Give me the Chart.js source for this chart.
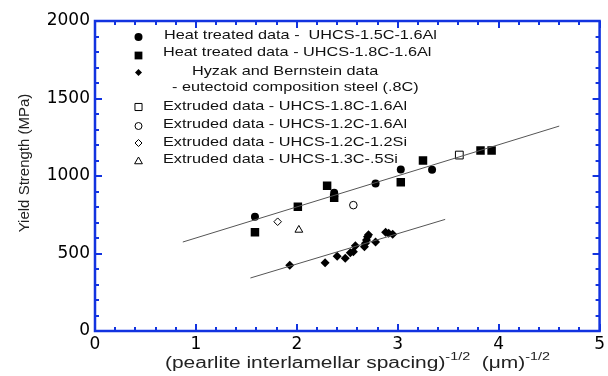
<!DOCTYPE html>
<html>
<head>
<meta charset="utf-8">
<script src="https://cdn.jsdelivr.net/npm/chart.js@4.4.1/dist/chart.umd.min.js"></script>
<style>
  html, body { margin: 0; padding: 0; background: #fff; }
  #wrap { width: 608px; height: 376px; }
</style>
</head>
<body>
<div id="wrap"><canvas id="chart" width="608" height="376"></canvas></div>
<script>
// Heat treated data - UHCS-1.5C-1.6Al (filled circles)
const heat15X = [1.585, 2.37, 2.37, 2.78, 3.03, 3.34];
const heat15Y = [737, 892, 870, 952, 1042, 1040];

// Heat treated data - UHCS-1.8C-1.6Al (filled squares)
const heat18X = [1.585, 2.01, 2.30, 2.37, 3.03, 3.25, 3.82, 3.93];
const heat18Y = [637, 802, 937, 860, 960, 1100, 1165, 1165];

// Hyzak and Bernstein - eutectoid steel (filled diamonds)
const hyzakX = [1.93, 2.28, 2.40, 2.48, 2.53, 2.56, 2.58, 2.67, 2.68, 2.69, 2.70, 2.71, 2.78, 2.88, 2.91, 2.95];
const hyzakY = [424, 441, 482, 469, 505, 512, 550, 544, 566, 587, 608, 621, 574, 637, 630, 624];

// Extruded data (open symbols)
const ext18X = [3.61];
const ext18Y = [1135];
const ext12AlX = [2.56];
const ext12AlY = [812];
const ext12SiX = [1.81];
const ext12SiY = [705];
const ext13SiX = [2.02];
const ext13SiY = [652];

// Fit lines (end points)
const upperFitX = [0.87, 4.6];
const upperFitY = [574, 1322];
const lowerFitX = [1.54, 3.47];
const lowerFitY = [342, 720];

// Axis ticks
const xTicks = [0, 1, 2, 3, 4, 5];
const yTicks = [0, 500, 1000, 1500, 2000];

const legendLabels = [
    'Heat treated data -  UHCS-1.5C-1.6Al',
    'Heat treated data - UHCS-1.8C-1.6Al',
    'Hyzak and Bernstein data',
    '- eutectoid composition steel (.8C)',
    'Extruded data - UHCS-1.8C-1.6Al',
    'Extruded data - UHCS-1.2C-1.6Al',
    'Extruded data - UHCS-1.2C-1.2Si',
    'Extruded data - UHCS-1.3C-.5Si'
];

const AXIS_BLUE = '#1233e0';
const FONT = '"Liberation Sans", Arial, Helvetica, sans-serif';
const TICK_FONT = '"DejaVu Sans", "Liberation Sans", sans-serif';

function pts(xs, ys) {
    return xs.map((x, i) => ({ x: x, y: ys[i] }));
}

function markerSet(label, xs, ys, style, radius, open) {
    return {
        label: label,
        data: pts(xs, ys),
        showLine: false,
        pointStyle: style,
        pointRadius: radius,
        pointHoverRadius: radius,
        pointBackgroundColor: open ? '#ffffff' : '#000000',
        pointBorderColor: '#000000',
        pointBorderWidth: open ? 1 : 0
    };
}

function fitLine(xs, ys) {
    return {
        data: pts(xs, ys),
        showLine: true,
        borderColor: '#555555',
        borderWidth: 1,
        pointRadius: 0,
        fill: false
    };
}

// Inward ticks on all four sides plus the blue frame
const framePlugin = {
    id: 'frame',
    afterDraw(chart) {
        const ctx = chart.ctx;
        const { left, right, top, bottom } = chart.chartArea;
        const xs = chart.scales.x;
        const ys = chart.scales.y;
        ctx.save();
        ctx.strokeStyle = AXIS_BLUE;
        ctx.lineWidth = 2;
        ctx.beginPath();
        for (let i = 0; i <= 25; i++) {
            const v = i * 0.2;
            const len = (i % 5 === 0) ? 7 : 4;
            const px = Math.round(xs.getPixelForValue(v));
            ctx.moveTo(px, bottom); ctx.lineTo(px, bottom - len);
            ctx.moveTo(px, top); ctx.lineTo(px, top + len);
        }
        for (let i = 0; i <= 20; i++) {
            const v = i * 100;
            const len = (i % 5 === 0) ? 7 : 4;
            const py = Math.round(ys.getPixelForValue(v));
            ctx.moveTo(left, py); ctx.lineTo(left + len, py);
            ctx.moveTo(right, py); ctx.lineTo(right - len, py);
        }
        ctx.stroke();
        ctx.lineWidth = 2.5;
        ctx.strokeRect(left, top, right - left, bottom - top);
        ctx.restore();
    }
};

// Legend box inside the plot, drawn by hand to match the layout
const legendPlugin = {
    id: 'innerLegend',
    afterDraw(chart) {
        const ctx = chart.ctx;
        const markers = [
            { style: 'circle', r: 4, open: false, y: 37 },
            { style: 'rect', r: 5.5, open: false, y: 55.5 },
            { style: 'rectRot', r: 3.5, open: false, y: 72.5 },
            { style: 'rect', r: 5, open: true, y: 107 },
            { style: 'circle', r: 3.5, open: true, y: 126 },
            { style: 'rectRot', r: 3.5, open: true, y: 143 },
            { style: 'triangle', r: 4.5, open: true, y: 161.5 }
        ];
        ctx.save();
        markers.forEach(m => {
            ctx.fillStyle = m.open ? '#ffffff' : '#000000';
            ctx.strokeStyle = '#000000';
            ctx.lineWidth = 1;
            Chart.helpers.drawPoint(ctx, {
                pointStyle: m.style, radius: m.r, rotation: 0, borderWidth: m.open ? 1 : 0
            }, 138.5, m.y);
        });

        const textPos = [
            [164, 35], [163, 52], [192, 71.5], [172, 87.5],
            [163, 106], [163, 124.5], [163, 142.5], [163, 159.5]
        ];
        ctx.fillStyle = '#111111';
        ctx.font = '13px ' + FONT;
        ctx.textAlign = 'left';
        ctx.textBaseline = 'middle';
        // the reference text is drawn wider than the plain font
        const stretch = 244 / ctx.measureText(legendLabels[4]).width;
        legendLabels.forEach((t, i) => {
            ctx.save();
            ctx.translate(textPos[i][0], textPos[i][1]);
            ctx.scale(stretch, 1);
            ctx.fillText(t, 0, 0);
            ctx.restore();
        });
        ctx.restore();
    }
};

// Axis titles (x title needs superscripts)
const titlePlugin = {
    id: 'axisTitles',
    afterDraw(chart) {
        const ctx = chart.ctx;
        ctx.save();
        ctx.fillStyle = '#222222';
        ctx.textBaseline = 'alphabetic';

        const parts = [
            { t: '(pearlite interlamellar spacing)', sup: false },
            { t: '-1/2', sup: true },
            { t: '  (\u03bcm)', sup: false },
            { t: '-1/2', sup: true }
        ];
        const big = '16px ' + FONT;
        const small = '11px ' + FONT;
        let total = 0;
        parts.forEach(p => {
            ctx.font = p.sup ? small : big;
            p.w = ctx.measureText(p.t).width;
            total += p.w;
        });
        const stretch = 385 / total;
        ctx.save();
        ctx.translate(165, 368);
        ctx.scale(stretch, 1);
        let x = 0;
        ctx.textAlign = 'left';
        parts.forEach(p => {
            ctx.font = p.sup ? small : big;
            ctx.fillText(p.t, x, p.sup ? -8 : 0);
            x += p.w;
        });
        ctx.restore();

        ctx.translate(25, 163);
        ctx.rotate(-Math.PI / 2);
        ctx.font = '15px ' + FONT;
        ctx.textAlign = 'center';
        ctx.textBaseline = 'middle';
        ctx.fillText('Yield Strength (MPa)', 0, 0);
        ctx.restore();
    }
};

const ctx = document.getElementById('chart').getContext('2d');
const chart = new Chart(ctx, {
    type: 'scatter',
    data: {
        datasets: [
            fitLine(upperFitX, upperFitY),
            fitLine(lowerFitX, lowerFitY),
            markerSet('Heat treated data - UHCS-1.5C-1.6Al', heat15X, heat15Y, 'circle', 4, false),
            markerSet('Heat treated data - UHCS-1.8C-1.6Al', heat18X, heat18Y, 'rect', 6, false),
            markerSet('Hyzak and Bernstein data', hyzakX, hyzakY, 'rectRot', 4.5, false),
            markerSet('Extruded data - UHCS-1.8C-1.6Al', ext18X, ext18Y, 'rect', 5.5, true),
            markerSet('Extruded data - UHCS-1.2C-1.6Al', ext12AlX, ext12AlY, 'circle', 3.8, true),
            markerSet('Extruded data - UHCS-1.2C-1.2Si', ext12SiX, ext12SiY, 'rectRot', 3.8, true),
            markerSet('Extruded data - UHCS-1.3C-.5Si', ext13SiX, ext13SiY, 'triangle', 4.5, true)
        ]
    },
    options: {
        responsive: false,
        animation: false,
        events: [],
        layout: { padding: { left: 0, right: 4, top: 21, bottom: 0 } },
        plugins: {
            legend: { display: false },
            tooltip: { enabled: false }
        },
        scales: {
            x: {
                type: 'linear',
                min: 0,
                max: 5,
                afterBuildTicks: s => { s.ticks = xTicks.map(v => ({ value: v })); },
                afterFit: s => { s.height = 45; },
                grid: { display: false, drawTicks: false },
                border: { display: false },
                ticks: {
                    color: '#000',
                    padding: 3,
                    maxRotation: 0,
                    callback: v => String(v),
                    font: { family: TICK_FONT, size: 17 }
                }
            },
            y: {
                type: 'linear',
                min: 0,
                max: 2000,
                afterBuildTicks: s => { s.ticks = yTicks.map(v => ({ value: v })); },
                afterFit: s => { s.width = 95; },
                grid: { display: false, drawTicks: false },
                border: { display: false },
                ticks: {
                    color: '#000',
                    padding: 5,
                    callback: v => String(v),
                    font: { family: TICK_FONT, size: 17 }
                }
            }
        }
    },
    plugins: [framePlugin, legendPlugin, titlePlugin]
});
</script>
</body>
</html>
